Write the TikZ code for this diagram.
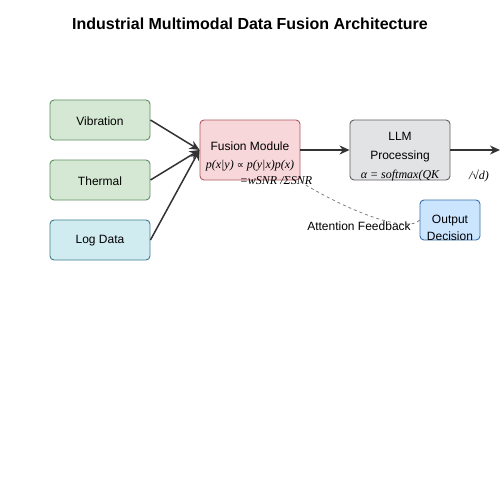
\documentclass[tikz,border=0pt]{standalone}
\usepackage{fontspec}
\setmainfont{Liberation Sans}
\newfontfamily\serifit{Liberation Serif}[ItalicFont={Liberation Serif Italic}]
\newfontfamily\symfont{DejaVu Sans}
\usetikzlibrary{arrows.meta}
\definecolor{grfill}{HTML}{D5E8D4}\definecolor{grdraw}{HTML}{5E9060}
\definecolor{cyfill}{HTML}{D1ECF1}\definecolor{cydraw}{HTML}{3E7F8C}
\definecolor{rdfill}{HTML}{F8D7DA}\definecolor{rddraw}{HTML}{B05A60}
\definecolor{gyfill}{HTML}{E2E3E5}\definecolor{gydraw}{HTML}{606060}
\definecolor{blfill}{HTML}{CCE5FF}\definecolor{bldraw}{HTML}{3A6FA8}
\definecolor{arr}{HTML}{333333}
\begin{document}
\begin{tikzpicture}[x=1pt,y=-1pt,
  box/.style={draw, line width=0.9pt, rounded corners=4pt, inner sep=0pt},
  lbl/.style={font=\fontsize{12}{14}\selectfont, text=black},
  frm/.style={font=\fontsize{12}{14}\serifit\itshape, text=black},
  conn/.style={draw=arr, line width=1.5pt, -{Stealth[length=10pt,width=9pt]}}]
\useasboundingbox (0,0) rectangle (500,500);
\fill[white] (0,0) rectangle (500,500);
\node[font=\fontsize{16}{18}\selectfont\bfseries] (title) at (250,24) {Industrial Multimodal Data Fusion Architecture};
% boxes
\node[box, fill=grfill, draw=grdraw, minimum width=100pt, minimum height=40pt] (vib) at (100,120) {};
\node[lbl] (vibt) at (100,121) {Vibration};
\node[box, fill=grfill, draw=grdraw, minimum width=100pt, minimum height=40pt] (the) at (100,180) {};
\node[lbl] (thet) at (100,181) {Thermal};
\node[box, fill=cyfill, draw=cydraw, minimum width=100pt, minimum height=40pt] (log) at (100,240) {};
\node[lbl] (logt) at (100,241) {Log Data};
\node[box, fill=rdfill, draw=rddraw, minimum width=100pt, minimum height=60pt] (fus) at (250,150) {};
\node[lbl] (fust) at (250,146) {Fusion Module};
\node[frm] (fusf) at (250,166) {p(x|y) {\symfont\upshape\fontsize{10}{10}\selectfont ∝} p(y|x)p(x)};
\node[frm] (fusw) at (276,181) {=wSNR /ΣSNR};
\node[box, fill=gyfill, draw=gydraw, minimum width=100pt, minimum height=60pt] (llm) at (400,150) {};
\node[lbl] (llmt1) at (400,136) {LLM};
\node[lbl] (llmt2) at (400,156) {Processing};
\node[frm] (llmf) at (400,176) {α = softmax(QK};
\node[frm] (llmf2) at (479,176) {/√d)};
\node[box, fill=blfill, draw=bldraw, minimum width=60pt, minimum height=40pt] (out) at (450,220) {};
\node[lbl] (outt1) at (450,221) {Output};
\node[lbl] (outt2) at (450,236) {Decision};
\coordinate (end) at (500,150);
\coordinate (fbs) at (299,181);
% connectors
\draw[conn] (vib.east) -- (fus.west);
\draw[conn] (the.east) -- (fus.west);
\draw[conn] (log.east) -- (fus.west);
\draw[conn] (fus.east) -- (llm.west);
\draw[conn] (llm.east) -- (end);
\draw[draw=gray, line width=0.8pt, dashed] (out.west) .. controls (410,232) and (360,218) .. (fbs);
\node[lbl] (att) at (359,226) {Attention Feedback};
\end{tikzpicture}
\end{document}
